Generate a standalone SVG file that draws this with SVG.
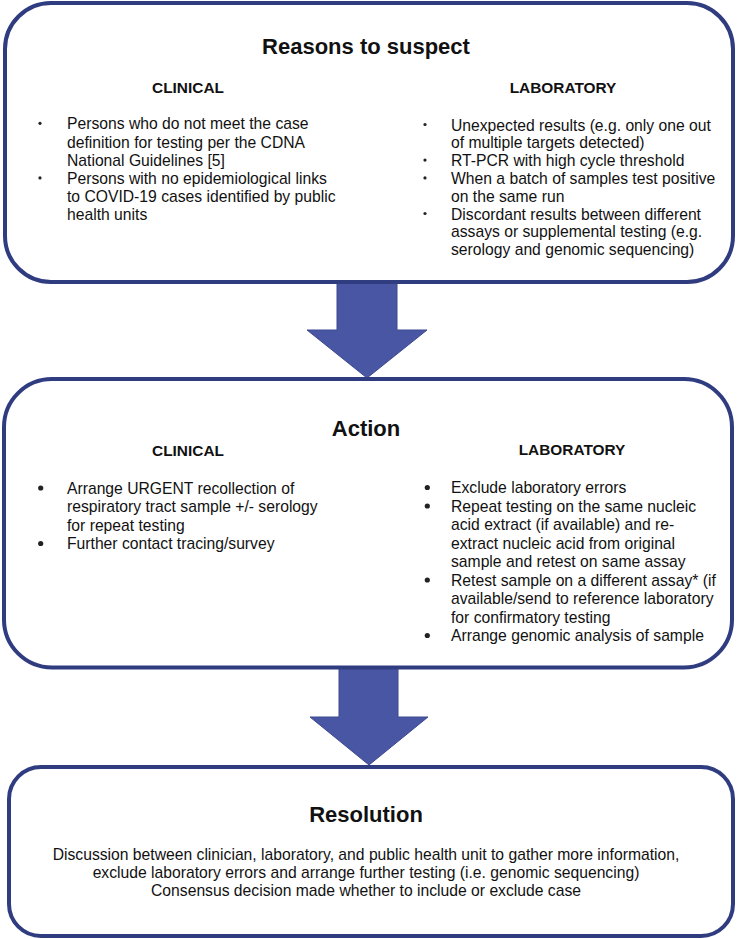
<svg xmlns="http://www.w3.org/2000/svg" width="738" height="939" viewBox="0 0 738 939">
<style>
.box{fill:#ffffff;stroke:#303c80;stroke-width:4}
.arrow{fill:#4956a3;stroke:#3d4890;stroke-width:1}
text{font-family:"Liberation Sans",Arial,sans-serif;fill:#111111}
.title{font-size:22px;font-weight:bold;text-anchor:middle}
.head{font-size:15.4px;font-weight:bold;text-anchor:middle}
.body{font-size:15.7px}
.mid{text-anchor:middle}
.b1{fill:#222222}
</style>
<rect width="738" height="939" fill="#ffffff"/>
<g id="connectors">
<polygon class="arrow" points="337,281 397,281 397,330 427,330 367,378 307,330 337,330"/>
<polygon class="arrow" points="339,666 398,666 398,717 428,717 369,765 310,717 339,717"/>
</g>
<g id="reasons">
<rect class="box" x="5" y="3" width="728" height="279" rx="46" ry="46"/>
<text class="title" x="366" y="54">Reasons to suspect</text>
<text class="head" x="188" y="93">CLINICAL</text>
<text class="head" x="563" y="93">LABORATORY</text>
<g class="b1">
<circle cx="40" cy="123.3" r="1.6"/>
<circle cx="40" cy="177.9" r="1.6"/>
<circle cx="425" cy="124.5" r="1.6"/>
<circle cx="425" cy="160.1" r="1.6"/>
<circle cx="425" cy="177.9" r="1.6"/>
<circle cx="425" cy="213.5" r="1.6"/>
</g>
<text class="body" x="67" y="129.3">Persons who do not meet the case</text>
<text class="body" x="67" y="147.5">definition for testing per the CDNA</text>
<text class="body" x="67" y="165.7">National Guidelines [5]</text>
<text class="body" x="67" y="183.9">Persons with no epidemiological links</text>
<text class="body" x="67" y="202.1">to COVID-19 cases identified by public</text>
<text class="body" x="67" y="220.3">health units</text>
<text class="body" x="451" y="130.5">Unexpected results (e.g. only one out</text>
<text class="body" x="451" y="148.3">of multiple targets detected)</text>
<text class="body" x="451" y="166.1">RT-PCR with high cycle threshold</text>
<text class="body" x="451" y="183.9">When a batch of samples test positive</text>
<text class="body" x="451" y="201.7">on the same run</text>
<text class="body" x="451" y="219.5">Discordant results between different</text>
<text class="body" x="451" y="237.3">assays or supplemental testing (e.g.</text>
<text class="body" x="451" y="255.1">serology and genomic sequencing)</text>
</g>
<g id="action">
<rect class="box" x="4" y="379" width="728" height="288.5" rx="48" ry="48"/>
<text class="title" x="366" y="436">Action</text>
<text class="head" x="188" y="456">CLINICAL</text>
<text class="head" x="572" y="455">LABORATORY</text>
<g class="b1">
<circle cx="40.7" cy="488" r="2.6"/>
<circle cx="40.7" cy="543.5" r="2.6"/>
<circle cx="427.3" cy="487.5" r="2.6"/>
<circle cx="427.3" cy="506" r="2.6"/>
<circle cx="427.3" cy="580" r="2.6"/>
<circle cx="427.3" cy="635.5" r="2.6"/>
</g>
<text class="body" x="67" y="493.5">Arrange URGENT recollection of</text>
<text class="body" x="67" y="512">respiratory tract sample +/- serology</text>
<text class="body" x="67" y="530.5">for repeat testing</text>
<text class="body" x="67" y="549">Further contact tracing/survey</text>
<text class="body" x="451" y="493">Exclude laboratory errors</text>
<text class="body" x="451" y="511.5">Repeat testing on the same nucleic</text>
<text class="body" x="451" y="530">acid extract (if available) and re-</text>
<text class="body" x="451" y="548.5">extract nucleic acid from original</text>
<text class="body" x="451" y="567">sample and retest on same assay</text>
<text class="body" x="451" y="585.5">Retest sample on a different assay* (if</text>
<text class="body" x="451" y="604">available/send to reference laboratory</text>
<text class="body" x="451" y="622.5">for confirmatory testing</text>
<text class="body" x="451" y="641">Arrange genomic analysis of sample</text>
</g>
<g id="resolution">
<rect class="box" x="9" y="767" width="724" height="169" rx="32" ry="32"/>
<text class="title" x="366" y="822">Resolution</text>
<text class="body mid" x="366" y="859.8">Discussion between clinician, laboratory, and public health unit to gather more information,</text>
<text class="body mid" x="366" y="878">exclude laboratory errors and arrange further testing (i.e. genomic sequencing)</text>
<text class="body mid" x="366" y="896.2">Consensus decision made whether to include or exclude case</text>
</g>
</svg>
